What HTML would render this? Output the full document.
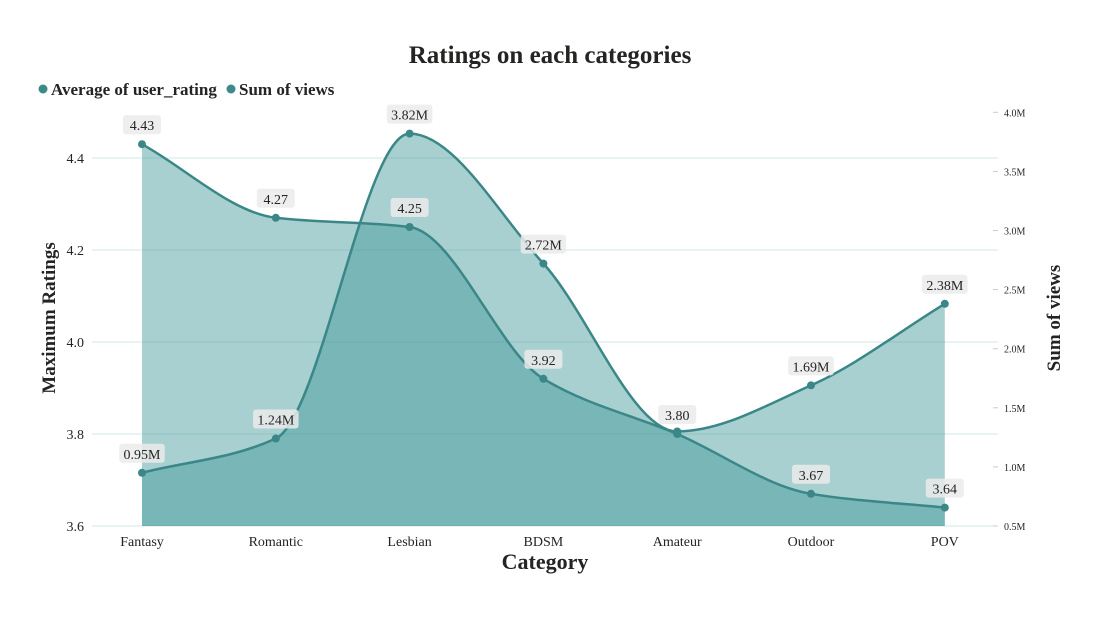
<!DOCTYPE html>
<html><head><meta charset="utf-8"><style>
body{margin:0;background:#fff;}
svg{display:block;font-family:"Liberation Serif",serif;}
</style></head><body>
<svg id="c" width="1093" height="622">
<text x="550" y="63" text-anchor="middle" font-size="25" font-weight="bold" fill="#252423">Ratings on each categories</text>
<g>
<circle cx="43" cy="89" r="4.5" fill="#3b8b8b"/>
<text x="51" y="95" font-size="17" font-weight="bold" fill="#252423">Average of user_rating</text>
<circle cx="231" cy="89" r="4.5" fill="#3b8b8b"/>
<text x="239" y="95" font-size="17" font-weight="bold" fill="#252423">Sum of views</text>
</g>
<g id="grid"></g><g id="areas"></g><g id="lines"></g><g id="labels"></g><g id="axes"></g>
<text x="545" y="569" text-anchor="middle" font-size="22" font-weight="bold" fill="#252423">Category</text>
<text transform="translate(55,318) rotate(-90)" text-anchor="middle" font-size="19" font-weight="bold" fill="#252423">Maximum Ratings</text>
<text transform="translate(1060,318) rotate(-90)" text-anchor="middle" font-size="19" font-weight="bold" fill="#252423">Sum of views</text>
</svg>
<script>
const categories=["Fantasy","Romantic","Lesbian","BDSM","Amateur","Outdoor","POV"];
const ratings=[4.43,4.27,4.25,3.92,3.80,3.67,3.64];
const views=[0.95,1.24,3.82,2.72,1.30,1.69,2.38];
const viewsLabelShown=[true,true,true,true,false,true,true];
const ratingsLabelShown=[true,true,true,true,true,true,true];
const leftTicks=[3.6,3.8,4.0,4.2,4.4];
const rightTicks=[0.5,1.0,1.5,2.0,2.5,3.0,3.5,4.0];
const NS="http://www.w3.org/2000/svg";
const x=i=>142+i*133.8;
const yL=v=>526-(v-3.6)/0.2*92;
const yR=v=>526-(v-0.5)/0.5*59.1;
function mk(t,a,p){const e=document.createElementNS(NS,t);for(const k in a)e.setAttribute(k,a[k]);document.getElementById(p).appendChild(e);return e;}
function path(pts){const n=pts.length;const dx=[],s=[];
for(let i=0;i<n-1;i++){dx[i]=pts[i+1][0]-pts[i][0];s[i]=(pts[i+1][1]-pts[i][1])/dx[i];}
const m=[s[0]];for(let i=1;i<n-1;i++){if(s[i-1]*s[i]<=0)m[i]=0;else m[i]=3*(dx[i-1]+dx[i])/((2*dx[i]+dx[i-1])/s[i-1]+(dx[i]+2*dx[i-1])/s[i]);}
m[n-1]=s[n-2];
let d=`M${pts[0][0]},${pts[0][1]}`;
for(let i=0;i<n-1;i++){const h=dx[i]/3;d+=`C${pts[i][0]+h},${pts[i][1]+m[i]*h} ${pts[i+1][0]-h},${pts[i+1][1]-m[i+1]*h} ${pts[i+1][0]},${pts[i+1][1]}`;}return d;}
leftTicks.forEach(v=>{const g=mk('line',{x1:92,x2:998,y1:yL(v),y2:yL(v),stroke:'#d2e8e8','stroke-width':1},'grid');

const t=mk('text',{x:84,y:yL(v)+5,'text-anchor':'end','font-size':14,fill:'#252423'},'axes');t.textContent=v.toFixed(1);
});
rightTicks.forEach(v=>{const l=mk('line',{x1:993,x2:998,y1:yR(v),y2:yR(v),stroke:'#ccc'},'axes');

const t=mk('text',{x:1004,y:yR(v)+4,'font-size':10,fill:'#252423'},'axes');t.textContent=v.toFixed(1)+'M';
});
categories.forEach((c,i)=>{const t=mk('text',{x:x(i),y:546,'text-anchor':'middle','font-size':14,fill:'#252423'},'axes');t.textContent=c;
});
[[ratings,yL,'rating',v=>v.toFixed(2),ratingsLabelShown],[views,yR,'views',v=>v.toFixed(2)+'M',viewsLabelShown]].forEach(([arr,yf,n,fmt,show])=>{
const pts=arr.map((v,i)=>[x(i),yf(v)]);const d=path(pts);
const a=mk('path',{d:d+`L${x(arr.length-1)},526L${x(0)},526Z`,fill:'rgba(62,151,153,0.45)'},'areas');

const l=mk('path',{d:d,fill:'none',stroke:'#3b8787','stroke-width':2.5},'lines');

pts.forEach((p,i)=>{const c=mk('circle',{cx:p[0],cy:p[1],r:4,fill:'#3b8787'},'lines');

if(!show[i])return;
const s=fmt(arr[i]);const w=s.length*7.5+8;
const r=mk('rect',{x:p[0]-w/2,y:p[1]-29,width:w,height:19,rx:3,fill:'rgba(235,235,235,0.85)'},'labels');

const t=mk('text',{x:p[0],y:p[1]-14,'text-anchor':'middle','font-size':14,fill:'#252423'},'labels');t.textContent=s;
});
});
</script>
</body></html>
